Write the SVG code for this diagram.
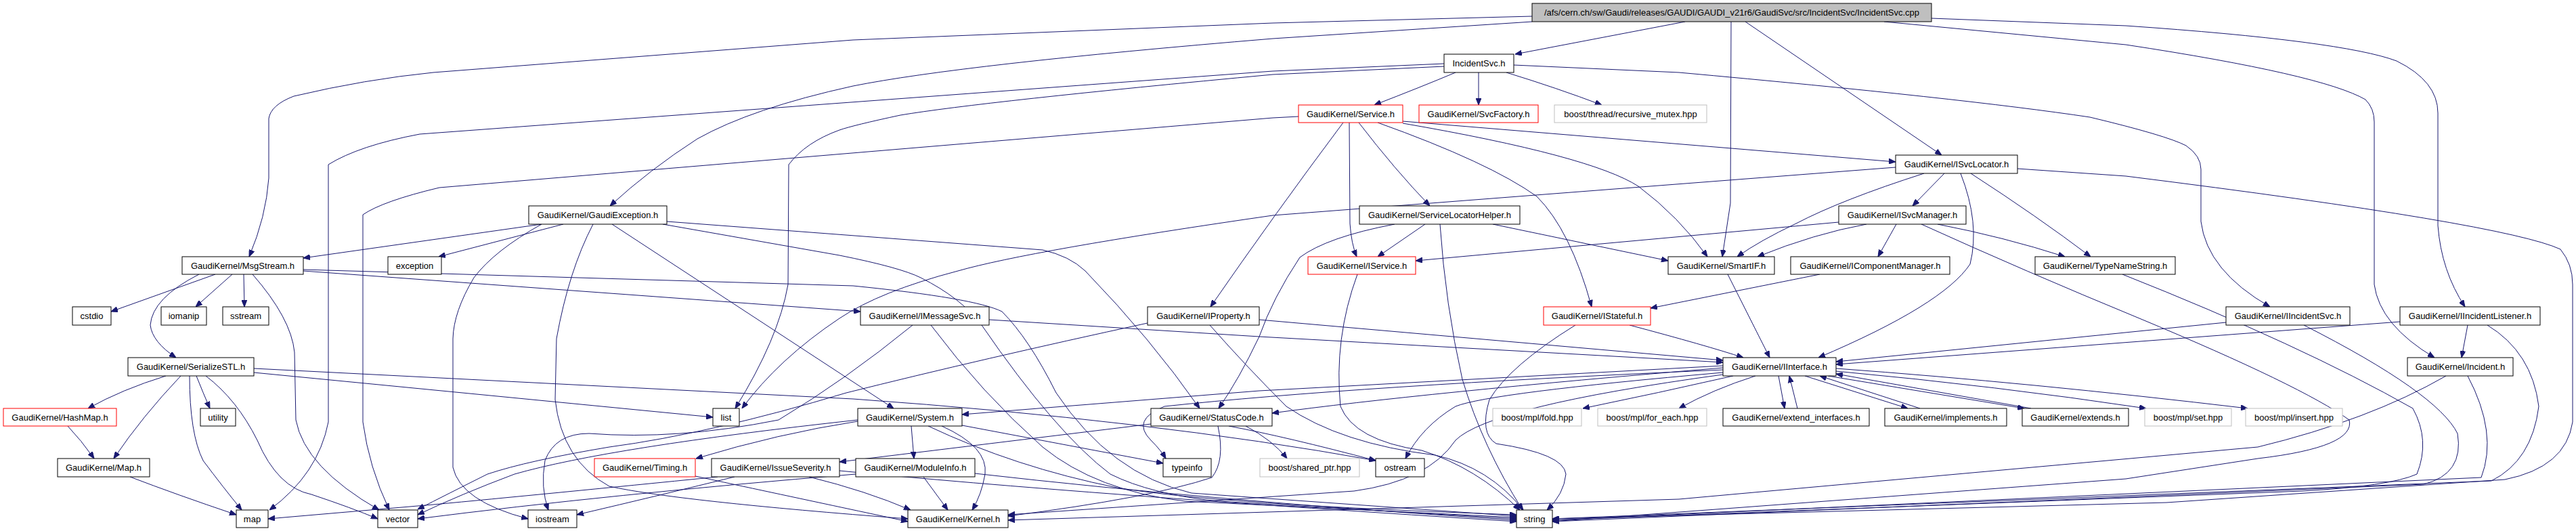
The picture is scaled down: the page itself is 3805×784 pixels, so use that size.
<svg xmlns="http://www.w3.org/2000/svg" width="3805" height="784" viewBox="0 0 3805 784">
<style>
.n rect{fill:#fff;stroke:#000;stroke-width:1}
.n.r rect{stroke:#ff0000}
.n.g rect{stroke:#bfbfbf}
.n.m rect{fill:#bfbfbf}
text{font-family:"Liberation Sans",Arial,sans-serif;font-size:13px;text-anchor:middle;fill:#000}
#edges path{fill:none;stroke:#191970;stroke-width:1;marker-end:url(#a)}
</style>
<defs>
<marker id="a" viewBox="0 0 10 8" refX="10" refY="4" markerWidth="10" markerHeight="8" markerUnits="userSpaceOnUse" orient="auto"><path d="M0,0L10,4L0,8z" fill="#191970" stroke="#191970"/></marker>
</defs>
<rect width="3805" height="784" fill="#fff"/>
<g id="edges">
<path d="M2489,32 L2238,80"/>
<path d="M2263,24 L1880,34 L1260,59 L640,107 Q540,117 434,142 Q400,155 397,175 L397,263 Q393,320 368,379"/>
<path d="M2263,32 L1880,57 Q1420,95 1260,127 Q1110,160 1030,205 Q960,250 901,304"/>
<path d="M2557,32 L2556,300 L2544,379"/>
<path d="M2578,32 L2868,229"/>
<path d="M2853,27 L3140,38 Q3460,60 3540,90 Q3601,120 3601,167 L3601,333 Q3606,400 3641,453"/>
<path d="M2783,32 L3140,66 Q3430,110 3494,147 Q3507,160 3507,180 L3507,420 Q3515,480 3596,528"/>
<path d="M2150,107 Q2100,128 2030,155"/>
<path d="M2184,107 L2184,155"/>
<path d="M2225,107 Q2300,130 2366,155"/>
<path d="M2236,96 L2480,107 Q2900,145 3087,173 Q3200,200 3229,215 Q3251,230 3251,250 L3251,327 Q3260,400 3353,453"/>
<path d="M2133,98 L1880,110 Q1450,150 1330,170 Q1260,185 1240,192 Q1190,210 1165,243 L1164,420 Q1150,500 1086,603"/>
<path d="M2133,94 L1880,105 L620,198 Q530,215 485,243 L485,623 Q470,700 398,753"/>
<path d="M1918,172 L1880,174 L649,277 Q565,297 536,317 L536,623 Q545,690 575,753"/>
<path d="M2072,179 L2800,239"/>
<path d="M1993,181 L1994,330 Q1996,360 2004,379"/>
<path d="M2007,181 Q2060,250 2112,304"/>
<path d="M2035,181 Q2200,240 2270,290 Q2320,340 2351,453"/>
<path d="M2072,182 Q2350,230 2420,275 Q2480,320 2522,379"/>
<path d="M1984,181 Q1880,320 1788,453"/>
<path d="M2800,247 L1880,318 Q1520,370 1415,400 Q1300,430 1240,470 Q1150,530 1096,603"/>
<path d="M2842,256 Q2720,295 2653,330 Q2600,355 2566,379"/>
<path d="M2872,256 L2825,304"/>
<path d="M2911,256 Q3010,320 3088,379"/>
<path d="M2896,256 Q2925,330 2910,390 Q2870,450 2686,528"/>
<path d="M2980,249 L3140,260 Q3700,330 3782,368 Q3800,390 3800,420 L3800,623 Q3790,690 3700,708 L3200,742 L2293,766"/>
<path d="M2716,328 L2091,385"/>
<path d="M2757,331 Q2680,345 2596,379"/>
<path d="M2801,331 L2774,379"/>
<path d="M2862,331 Q2960,350 3050,379"/>
<path d="M2838,331 Q2990,400 3160,470 Q3400,570 3470,620 Q3480,660 3335,677 L3140,707 L2293,770"/>
<path d="M3135,405 Q3400,510 3564,603 Q3590,650 3570,700 Q3530,718 3400,725 L2293,768"/>
<path d="M2105,331 L2035,379"/>
<path d="M2205,331 L2464,385"/>
<path d="M2060,331 Q1960,350 1920,380 Q1880,440 1860,497 Q1830,560 1800,603"/>
<path d="M2127,331 Q2135,450 2160,560 Q2190,660 2249,753"/>
<path d="M800,331 L448,381"/>
<path d="M832,331 L648,379"/>
<path d="M800,331 Q730,370 700,410 Q670,460 669,500 L669,690 Q680,740 780,766"/>
<path d="M876,331 Q840,400 822,500 L820,590 Q830,680 900,718 Q1000,740 1341,766"/>
<path d="M904,331 L1320,603"/>
<path d="M985,327 L1540,369 Q1580,378 1603,400 Q1700,500 1772,603"/>
<path d="M979,331 L1240,377 Q1330,395 1360,410 Q1420,440 1450,480 Q1560,640 1640,700 Q1700,730 1800,740 L2240,766"/>
<path d="M318,405 L164,460"/>
<path d="M343,405 L289,453"/>
<path d="M360,405 L361,453"/>
<path d="M294,405 Q225,440 222,480 Q225,505 260,528"/>
<path d="M373,405 Q430,470 435,520 L437,620 Q450,690 560,753"/>
<path d="M448,400 L1271,460"/>
<path d="M448,398 L1260,422 Q1440,440 1480,460 Q1520,500 1560,580 Q1640,700 1760,728 L2240,762"/>
<path d="M245,555 Q180,575 130,603"/>
<path d="M267,555 Q210,615 168,677"/>
<path d="M280,555 Q280,640 300,680 Q330,720 357,753"/>
<path d="M290,555 Q300,580 310,603"/>
<path d="M304,555 Q350,590 380,650 Q410,720 460,730 Q520,750 558,766"/>
<path d="M375,550 L1053,616"/>
<path d="M375,544 L1260,589 Q1700,620 2032,680"/>
<path d="M100,629 Q120,650 139,677"/>
<path d="M192,704 Q260,730 349,760"/>
<path d="M1461,472 L1860,497 L2545,535"/>
<path d="M1860,472 L2545,532"/>
<path d="M1375,480 Q1450,580 1540,660 Q1620,725 1750,740 L2240,764"/>
<path d="M1348,480 Q1250,560 1150,620 Q1000,650 870,640 Q820,640 805,680 Q798,720 810,753"/>
<path d="M1787,480 Q1840,540 1900,600 Q1980,655 2120,672 Q2200,690 2250,753"/>
<path d="M1695,477 Q1450,530 1250,580 Q1050,640 900,660 Q780,680 720,700 Q660,730 617,752"/>
<path d="M1267,620 Q900,660 760,700 Q680,730 617,760"/>
<path d="M1264,700 Q900,730 617,766"/>
<path d="M1027,703 Q1200,740 1341,770"/>
<path d="M1195,704 Q1280,725 1345,753"/>
<path d="M1085,704 Q980,730 852,760"/>
<path d="M1060,704 Q800,730 640,745 L396,766"/>
<path d="M1240,695 Q1600,730 2240,770"/>
<path d="M1267,622 Q1150,640 1028,677"/>
<path d="M1346,629 L1350,677"/>
<path d="M1391,629 Q1460,660 1455,700 Q1450,730 1436,753"/>
<path d="M1421,628 L1718,684"/>
<path d="M1371,629 Q1500,690 1650,720 Q1800,745 2240,760"/>
<path d="M1364,704 L1400,753"/>
<path d="M1440,699 Q1800,740 2240,768"/>
<path d="M1700,626 L1240,682"/>
<path d="M1799,629 Q1810,680 1790,705 Q1700,735 1489,762"/>
<path d="M1815,629 Q1900,645 2032,680"/>
<path d="M1840,629 Q1880,650 1901,677"/>
<path d="M2545,540 L1860,577 L1421,612"/>
<path d="M2545,543 Q2100,580 1879,610"/>
<path d="M2545,546 Q2000,570 1720,600 Q1670,620 1700,650 Q1715,665 1722,677"/>
<path d="M2545,550 Q2200,580 2150,600 Q2100,630 2076,677"/>
<path d="M2545,553 Q2200,600 2150,650 Q2110,710 2000,725 L1489,760"/>
<path d="M2560,555 Q2450,580 2338,603"/>
<path d="M2593,555 Q2530,575 2480,603"/>
<path d="M2627,555 L2636,603"/>
<path d="M2666,555 L2818,603"/>
<path d="M2700,555 L2990,603"/>
<path d="M2712,548 Q2950,570 3170,603"/>
<path d="M2712,544 Q3000,565 3320,603"/>
<path d="M2655,603 L2643,555"/>
<path d="M2836,603 L2688,555"/>
<path d="M3000,603 L2712,552"/>
<path d="M3288,476 L2712,534"/>
<path d="M3545,475 L2712,538"/>
<path d="M2407,480 Q2520,510 2575,528"/>
<path d="M2552,405 L2614,528"/>
<path d="M3403,480 Q3600,580 3630,640 Q3640,700 3580,715 L2293,770"/>
<path d="M3645,480 L3636,528"/>
<path d="M3674,480 Q3740,520 3750,600 Q3740,680 3680,710 L2293,766"/>
<path d="M3645,555 Q3690,640 3665,705 L2293,768"/>
<path d="M3613,555 Q3500,620 3335,660 L2480,737 L1489,768"/>
<path d="M2327,480 Q2230,540 2200,590 Q2185,640 2210,655 Q2310,670 2313,700 Q2310,730 2285,753"/>
<path d="M2005,405 Q1970,500 1980,600 Q2000,650 2100,665 Q2180,690 2245,753"/>
<path d="M2688,405 L2438,455"/>
</g>
<g id="n0" class="n m"><rect x="2263" y="5" width="590" height="27"/><text x="2558" y="23">/afs/cern.ch/sw/Gaudi/releases/GAUDI/GAUDI_v21r6/GaudiSvc/src/IncidentSvc/IncidentSvc.cpp</text></g>
<g id="n1" class="n"><rect x="2133" y="80" width="103" height="27"/><text x="2184.5" y="98">IncidentSvc.h</text></g>
<g id="n2" class="n r"><rect x="1918" y="155" width="154" height="26"/><text x="1995" y="173">GaudiKernel/Service.h</text></g>
<g id="n3" class="n r"><rect x="2096" y="155" width="176" height="26"/><text x="2184" y="173">GaudiKernel/SvcFactory.h</text></g>
<g id="n4" class="n g"><rect x="2296" y="155" width="225" height="26"/><text x="2408.5" y="173">boost/thread/recursive_mutex.hpp</text></g>
<g id="n5" class="n"><rect x="2800" y="229" width="180" height="27"/><text x="2890" y="247">GaudiKernel/ISvcLocator.h</text></g>
<g id="n6" class="n"><rect x="781" y="304" width="204" height="27"/><text x="883" y="322">GaudiKernel/GaudiException.h</text></g>
<g id="n7" class="n"><rect x="2008" y="304" width="237" height="27"/><text x="2126.5" y="322">GaudiKernel/ServiceLocatorHelper.h</text></g>
<g id="n8" class="n"><rect x="2716" y="304" width="188" height="27"/><text x="2810" y="322">GaudiKernel/ISvcManager.h</text></g>
<g id="n9" class="n"><rect x="269" y="379" width="179" height="26"/><text x="358.5" y="397">GaudiKernel/MsgStream.h</text></g>
<g id="n10" class="n"><rect x="573" y="379" width="79" height="26"/><text x="612.5" y="397">exception</text></g>
<g id="n11" class="n r"><rect x="1932" y="379" width="159" height="26"/><text x="2011.5" y="397">GaudiKernel/IService.h</text></g>
<g id="n12" class="n"><rect x="2464" y="379" width="157" height="26"/><text x="2542.5" y="397">GaudiKernel/SmartIF.h</text></g>
<g id="n13" class="n"><rect x="2645" y="379" width="235" height="26"/><text x="2762.5" y="397">GaudiKernel/IComponentManager.h</text></g>
<g id="n14" class="n"><rect x="3006" y="379" width="207" height="26"/><text x="3109.5" y="397">GaudiKernel/TypeNameString.h</text></g>
<g id="n15" class="n"><rect x="107" y="453" width="57" height="27"/><text x="135.5" y="471">cstdio</text></g>
<g id="n16" class="n"><rect x="238" y="453" width="67" height="27"/><text x="271.5" y="471">iomanip</text></g>
<g id="n17" class="n"><rect x="329" y="453" width="68" height="27"/><text x="363" y="471">sstream</text></g>
<g id="n18" class="n"><rect x="1271" y="453" width="190" height="27"/><text x="1366" y="471">GaudiKernel/IMessageSvc.h</text></g>
<g id="n19" class="n"><rect x="1695" y="453" width="165" height="27"/><text x="1777.5" y="471">GaudiKernel/IProperty.h</text></g>
<g id="n20" class="n r"><rect x="2280" y="453" width="158" height="27"/><text x="2359" y="471">GaudiKernel/IStateful.h</text></g>
<g id="n21" class="n"><rect x="3288" y="453" width="183" height="27"/><text x="3379.5" y="471">GaudiKernel/IIncidentSvc.h</text></g>
<g id="n22" class="n"><rect x="3545" y="453" width="207" height="27"/><text x="3648.5" y="471">GaudiKernel/IIncidentListener.h</text></g>
<g id="n23" class="n"><rect x="189" y="528" width="186" height="27"/><text x="282" y="546">GaudiKernel/SerializeSTL.h</text></g>
<g id="n24" class="n"><rect x="2545" y="528" width="167" height="27"/><text x="2628.5" y="546">GaudiKernel/IInterface.h</text></g>
<g id="n25" class="n"><rect x="3556" y="528" width="156" height="27"/><text x="3634" y="546">GaudiKernel/Incident.h</text></g>
<g id="n26" class="n r"><rect x="5" y="603" width="167" height="26"/><text x="88.5" y="621">GaudiKernel/HashMap.h</text></g>
<g id="n27" class="n"><rect x="296" y="603" width="52" height="26"/><text x="322" y="621">utility</text></g>
<g id="n28" class="n"><rect x="1053" y="603" width="39" height="26"/><text x="1072.5" y="621">list</text></g>
<g id="n29" class="n"><rect x="1267" y="603" width="154" height="26"/><text x="1344" y="621">GaudiKernel/System.h</text></g>
<g id="n30" class="n"><rect x="1700" y="603" width="179" height="26"/><text x="1789.5" y="621">GaudiKernel/StatusCode.h</text></g>
<g id="n31" class="n g"><rect x="2205" y="603" width="131" height="26"/><text x="2270.5" y="621">boost/mpl/fold.hpp</text></g>
<g id="n32" class="n g"><rect x="2360" y="603" width="161" height="26"/><text x="2440.5" y="621">boost/mpl/for_each.hpp</text></g>
<g id="n33" class="n"><rect x="2545" y="603" width="216" height="26"/><text x="2653" y="621">GaudiKernel/extend_interfaces.h</text></g>
<g id="n34" class="n"><rect x="2784" y="603" width="180" height="26"/><text x="2874" y="621">GaudiKernel/implements.h</text></g>
<g id="n35" class="n"><rect x="2987" y="603" width="157" height="26"/><text x="3065.5" y="621">GaudiKernel/extends.h</text></g>
<g id="n36" class="n g"><rect x="3168" y="603" width="128" height="26"/><text x="3232" y="621">boost/mpl/set.hpp</text></g>
<g id="n37" class="n g"><rect x="3317" y="603" width="143" height="26"/><text x="3388.5" y="621">boost/mpl/insert.hpp</text></g>
<g id="n38" class="n"><rect x="85" y="677" width="136" height="27"/><text x="153" y="695">GaudiKernel/Map.h</text></g>
<g id="n39" class="n r"><rect x="878" y="677" width="149" height="27"/><text x="952.5" y="695">GaudiKernel/Timing.h</text></g>
<g id="n40" class="n"><rect x="1051" y="677" width="189" height="27"/><text x="1145.5" y="695">GaudiKernel/IssueSeverity.h</text></g>
<g id="n41" class="n"><rect x="1264" y="677" width="176" height="27"/><text x="1352" y="695">GaudiKernel/ModuleInfo.h</text></g>
<g id="n42" class="n"><rect x="1718" y="677" width="71" height="27"/><text x="1753.5" y="695">typeinfo</text></g>
<g id="n43" class="n g"><rect x="1861" y="677" width="147" height="27"/><text x="1934.5" y="695">boost/shared_ptr.hpp</text></g>
<g id="n44" class="n"><rect x="2032" y="677" width="72" height="27"/><text x="2068" y="695">ostream</text></g>
<g id="n45" class="n"><rect x="349" y="753" width="47" height="26"/><text x="372.5" y="771">map</text></g>
<g id="n46" class="n"><rect x="558" y="753" width="59" height="26"/><text x="587.5" y="771">vector</text></g>
<g id="n47" class="n"><rect x="780" y="753" width="72" height="26"/><text x="816" y="771">iostream</text></g>
<g id="n48" class="n"><rect x="1341" y="753" width="148" height="26"/><text x="1415" y="771">GaudiKernel/Kernel.h</text></g>
<g id="n49" class="n"><rect x="2240" y="753" width="53" height="26"/><text x="2266.5" y="771">string</text></g>
</svg>
